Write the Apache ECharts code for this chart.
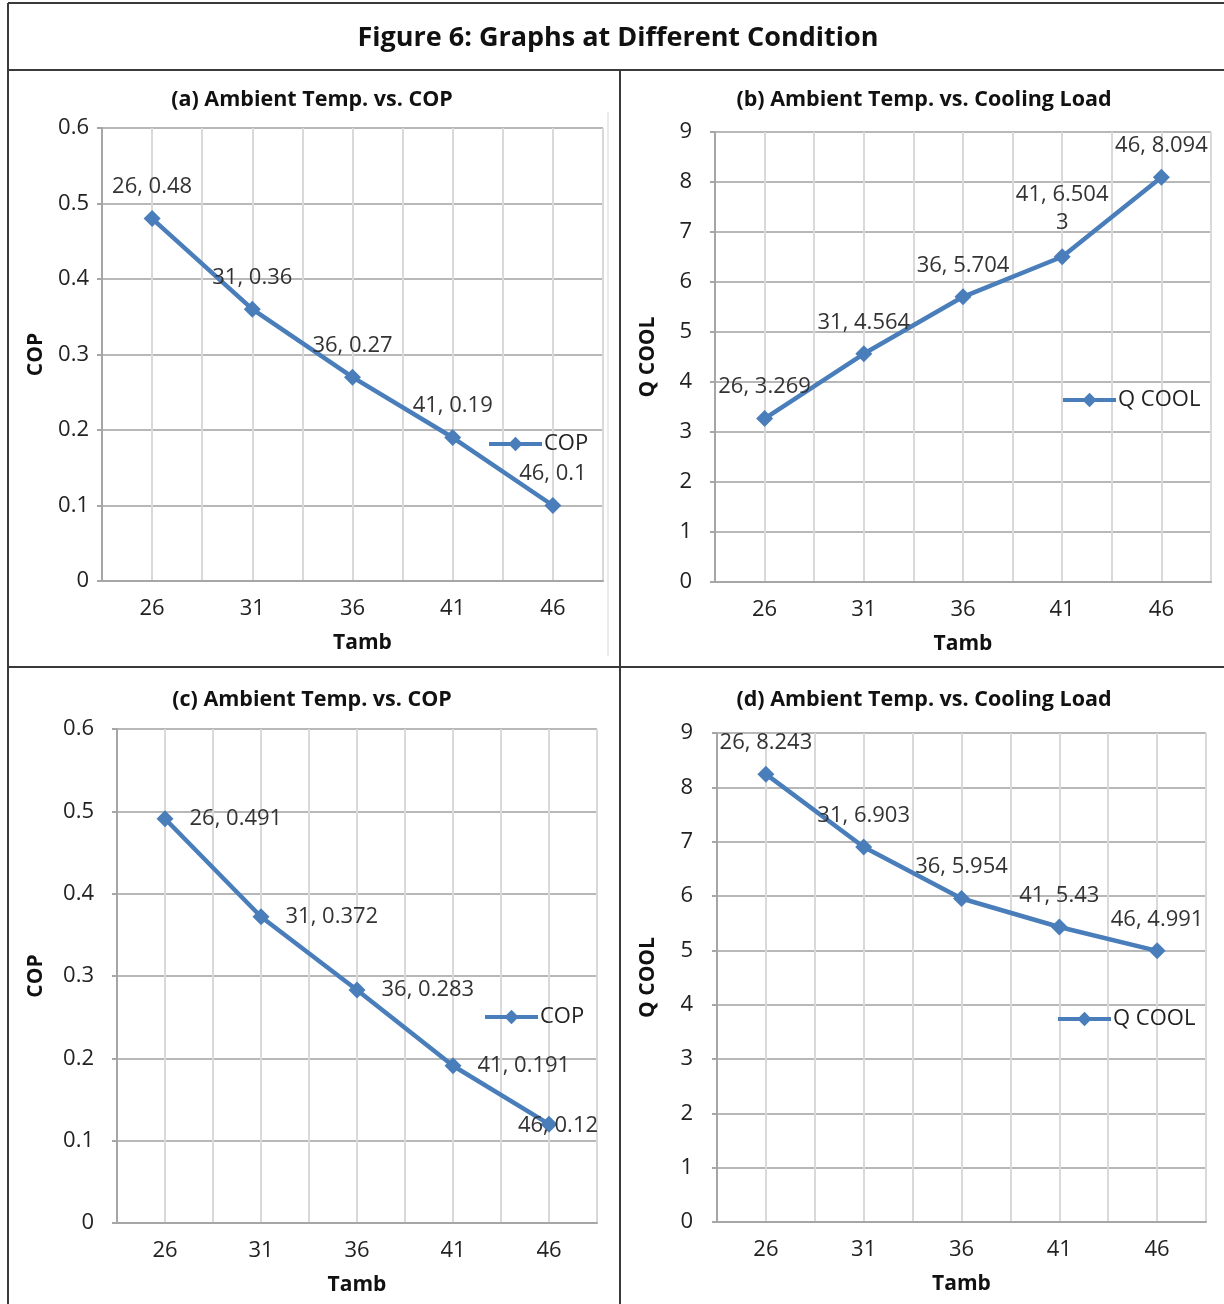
<!DOCTYPE html>
<html><head><meta charset="utf-8">
<script src="https://cdn.jsdelivr.net/npm/echarts@6/dist/echarts.min.js"></script>
<style>html,body{margin:0;padding:0;background:#fff}#c{width:1224px;height:1304px}</style>
</head><body><div id="c"></div>
<script>
// ---- data ----
const categories = ['26', '31', '36', '41', '46'];
const copA = [0.48, 0.36, 0.27, 0.19, 0.1];
const qcoolB = [3.269, 4.564, 5.704, 6.5043, 8.094];
const copC = [0.491, 0.372, 0.283, 0.191, 0.12];
const qcoolD = [8.243, 6.903, 5.954, 5.43, 4.991];
const figureTitle = 'Figure 6: Graphs at Different Condition';
const panelTitles = ['(a) Ambient Temp. vs. COP', '(b) Ambient Temp. vs. Cooling Load', '(c) Ambient Temp. vs. COP', '(d) Ambient Temp. vs. Cooling Load'];
const xName = 'Tamb';

const FONT = '"Open Sans", "Noto Sans", sans-serif';
const BLUE = '#4a7ebb';
const FS = 22;

const panels = [
  {title: panelTitles[0], tx: 312, ty: 89, grid: {left: 102, top: 128, width: 501, height: 453},
   yName: 'COP', yMax: 0.6, yInt: 0.1, data: copA, sname: 'COP', lblMargin: 13, yGap: 56,
   legend: {left: 487, top: 433}, pos: 'top', xNameShift: 20},
  {title: panelTitles[1], tx: 924, ty: 89, grid: {left: 715, top: 132, width: 496, height: 450},
   yName: 'Q COOL', yMax: 9, yInt: 1, data: qcoolB, sname: 'Q COOL', lblMargin: 23, yGap: 57,
   legend: {left: 1061, top: 389}, pos: 'top', wrapIdx: 3},
  {title: panelTitles[2], tx: 312, ty: 689, grid: {left: 117, top: 729, width: 480, height: 494},
   yName: 'COP', yMax: 0.6, yInt: 0.1, data: copC, sname: 'COP', lblMargin: 23, yGap: 71,
   legend: {left: 483, top: 1006}, pos: 'right', insideIdx: 4},
  {title: panelTitles[3], tx: 924, ty: 689, grid: {left: 717, top: 733, width: 489, height: 489},
   yName: 'Q COOL', yMax: 9, yInt: 1, data: qcoolD, sname: 'Q COOL', lblMargin: 24, yGap: 59,
   legend: {left: 1056, top: 1008}, pos: 'top'}
];

const option = {
  backgroundColor: '#fff',
  animation: false,
  textStyle: {fontFamily: FONT},
  title: [], grid: [], xAxis: [], yAxis: [], series: [], legend: [],
  graphic: []
};

option.title.push({text: figureTitle, left: 618, top: 25, textAlign: 'center', padding: 0,
  textStyle: {fontFamily: FONT, fontSize: 27, fontWeight: 'bold', color: '#111'}});

panels.forEach((p, i) => {
  option.title.push({text: p.title, left: p.tx, top: p.ty, textAlign: 'center', padding: 0,
    textStyle: {fontFamily: FONT, fontSize: 21.5, fontWeight: 'bold', color: '#111'}});
  option.grid.push(Object.assign({containLabel: false}, p.grid));
  // main category axis
  option.xAxis.push({
    type: 'category', gridIndex: i, data: categories, boundaryGap: true,
    axisLine: {show: true, lineStyle: {color: '#a6a6a6', width: 2}},
    axisTick: {show: false},
    splitLine: {show: false},
    axisLabel: {margin: 17, fontSize: FS, color: '#222', fontFamily: FONT},
    name: xName, nameLocation: 'middle', nameGap: 52,
    nameTextStyle: {fontSize: 21, fontWeight: 'bold', color: '#111', fontFamily: FONT,
      padding: [0, 0, 0, p.xNameShift || 0]}
  });
  // helper axis for the vertical gridlines
  option.xAxis.push({
    type: 'value', gridIndex: i, min: 0, max: 10, interval: 1, position: 'bottom',
    axisLine: {show: false}, axisTick: {show: false}, axisLabel: {show: false},
    splitLine: {show: true, lineStyle: {color: '#d9d9d9', width: 2}}
  });
  option.yAxis.push({
    type: 'value', gridIndex: i, min: 0, max: p.yMax, interval: p.yInt,
    axisLine: {show: true, lineStyle: {color: '#a6a6a6', width: 2}},
    axisTick: {show: true, length: 5, lineStyle: {color: '#a6a6a6', width: 2}},
    splitLine: {show: true, lineStyle: {color: '#b8b8b8', width: 2}},
    axisLabel: {margin: p.lblMargin, fontSize: FS, color: '#222', fontFamily: FONT},
    name: p.yName, nameLocation: 'middle', nameGap: p.yGap - 1,
    nameTextStyle: {fontSize: 21, fontWeight: 'bold', color: '#111', fontFamily: FONT}
  });
  const data = p.data.map((v, k) => {
    const d = {value: v};
    if (p.wrapIdx === k) d.label = {width: 98, overflow: 'breakAll', lineHeight: 28};
    if (p.insideIdx === k) d.label = {position: 'inside', offset: [9, 2]};
    return d;
  });
  option.series.push({
    name: p.sname, type: 'line', xAxisIndex: 2 * i, yAxisIndex: i, data: data,
    symbol: 'diamond', symbolSize: 17,
    lineStyle: {color: BLUE, width: 4.5},
    itemStyle: {color: BLUE},
    label: {show: true, position: p.pos, distance: p.pos === 'top' ? 12 : 16,
      fontSize: FS, color: '#333', fontFamily: FONT,
      formatter: (pr) => pr.name + ', ' + pr.value}
  });
  option.legend.push({
    data: [p.sname], left: p.legend.left, top: p.legend.top, padding: 0,
    itemWidth: 53, itemHeight: 18, itemGap: 0, selectedMode: false,
    lineStyle: {width: 4},
    textStyle: {fontSize: FS, color: '#222', fontFamily: FONT, padding: [0, 0, 0, -3]}
  });
});

// frame lines
const frame = '#3a3a3a';
const L = (x1, y1, x2, y2, c, w) => ({type: 'line', shape: {x1, y1, x2, y2}, style: {stroke: c || frame, lineWidth: w || 2}, silent: true, z: 100});
option.graphic.push(L(8, 3, 1224, 3));
option.graphic.push(L(8, 3, 8, 1304));
option.graphic.push(L(8, 70, 1224, 70));
option.graphic.push(L(620, 70, 620, 1304));
option.graphic.push(L(8, 667, 1224, 667));
option.graphic.push(L(608, 112, 608, 656, '#d4d4d4', 1));

const chart = echarts.init(document.getElementById('c'), null, {renderer: 'canvas'});
chart.setOption(option);
</script></body></html>
